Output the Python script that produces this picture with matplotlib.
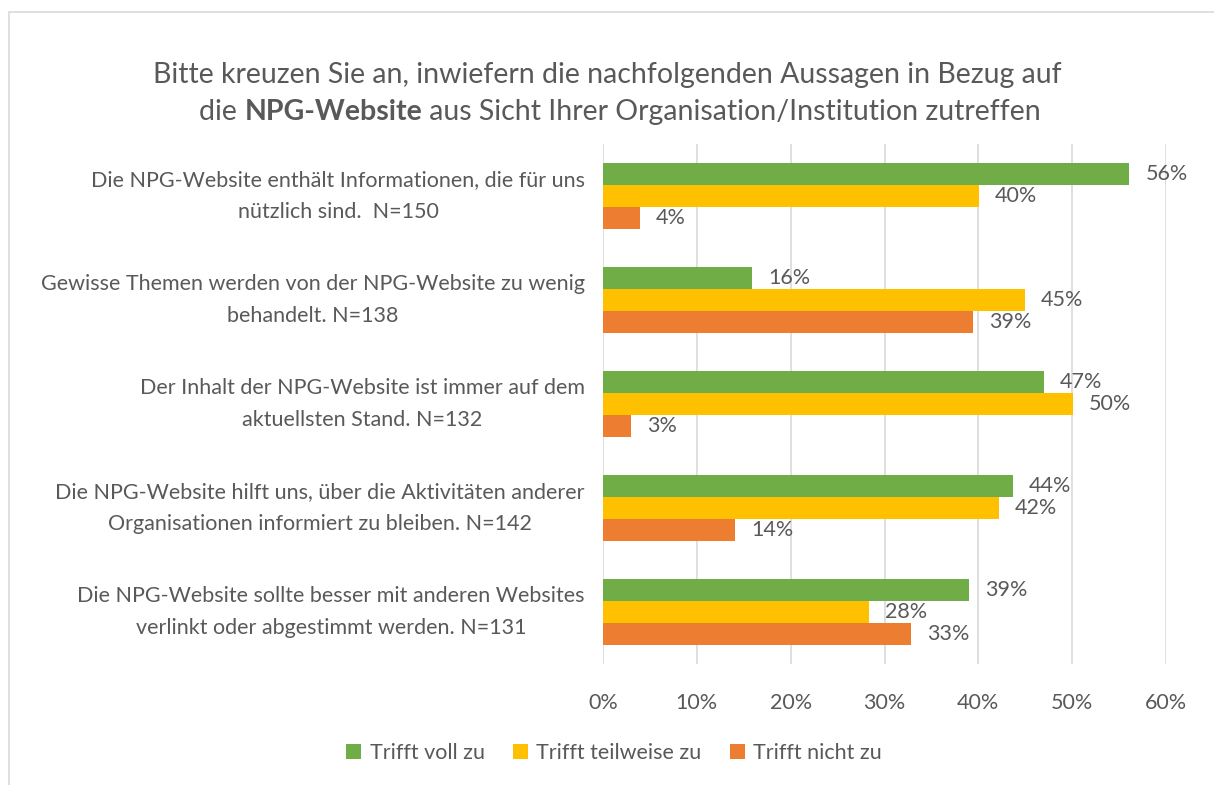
import matplotlib
matplotlib.use("Agg")
import matplotlib.pyplot as plt
import numpy as np
from matplotlib.patches import Rectangle, Patch

plt.rcParams["font.family"] = ["Lato", "DejaVu Sans"]

TEXT = "#595959"
GRID = "#D9D9D9"

categories = [
    "Die NPG-Website enthält Informationen, die für uns\nnützlich sind.  N=150",
    "Gewisse Themen werden von der NPG-Website zu wenig\nbehandelt. N=138",
    "Der Inhalt der NPG-Website ist immer auf dem\naktuellsten Stand. N=132",
    "Die NPG-Website hilft uns, über die Aktivitäten anderer\nOrganisationen informiert zu bleiben. N=142",
    "Die NPG-Website sollte besser mit anderen Websites\nverlinkt oder abgestimmt werden. N=131",
]
series_names = ["Trifft voll zu", "Trifft teilweise zu", "Trifft nicht zu"]
series_colors = ["#70AD47", "#FFC000", "#ED7D31"]
voll = [56.1, 15.9, 47.0, 43.7, 39.0]
teilweise = [40.1, 45.0, 50.1, 42.2, 28.3]
nicht = [3.9, 39.4, 3.0, 14.1, 32.8]
x_ticks = [0, 10, 20, 30, 40, 50, 60]

FS = 15.5

fig = plt.figure(figsize=(12.14, 7.85), dpi=100)
fig.patch.set_facecolor("white")

# outer chart border
fig.patches.append(Rectangle((9 / 1214, -0.05), 1.2, 0.05 + 1 - 12 / 785,
                             transform=fig.transFigure, fill=False,
                             edgecolor=GRID, linewidth=1.2, zorder=0))

ax = fig.add_axes([603 / 1214, 1 - 664 / 785, 563 / 1214, 520 / 785])

y = np.arange(len(categories))
h = 0.21
for k, (vals, col) in enumerate(zip([voll, teilweise, nicht], series_colors)):
    pos = y + (k - 1) * h
    ax.barh(pos, vals, height=h, color=col, zorder=3)
    for p, v in zip(pos, vals):
        ax.text(v + 1.7, p, f"{v:.0f}%", va="center", ha="left",
                fontsize=FS, color=TEXT, zorder=4)

ax.set_xlim(0, 60)
ax.set_ylim(len(categories) - 0.5, -0.5)
ax.set_xticks(x_ticks)
ax.set_xticklabels([f"{t}%" for t in x_ticks], fontsize=FS, color=TEXT)
ax.tick_params(axis="x", length=0, pad=21)
ax.set_yticks([])
ax.grid(axis="x", color=GRID, linewidth=1.2, zorder=0)
for s in ax.spines.values():
    s.set_visible(False)

for i, lab in enumerate(categories):
    ax.text(-0.032, i, lab, transform=ax.get_yaxis_transform(), ha="right",
            va="center", fontsize=FS, color=TEXT, linespacing=1.7,
            multialignment="center")

# title: line 1 plain, line 2 with bold part
TFS = 20.5
fig.text(607 / 1214, 1 - 75 / 785,
         "Bitte kreuzen Sie an, inwiefern die nachfolgenden Aussagen in Bezug auf",
         ha="center", va="center", fontsize=TFS, color=TEXT)
parts = [("die ", "normal"), ("NPG-Website", "bold"),
         (" aus Sicht Ihrer Organisation/Institution zutreffen", "normal")]
renderer = fig.canvas.get_renderer()
objs = []
for txt, w in parts:
    t = fig.text(0, 1 - 112 / 785, txt, ha="left", va="center", fontsize=TFS,
                 color=TEXT, fontweight=w)
    objs.append(t)
widths = [t.get_window_extent(renderer).width for t in objs]
x0 = 620 - sum(widths) / 2
for t, wd in zip(objs, widths):
    t.set_x(x0 / 1214)
    x0 += wd

handles = [Patch(facecolor=c, edgecolor="none") for c in series_colors]
leg = fig.legend(handles, series_names, loc="center", ncol=3,
                 bbox_to_anchor=(614 / 1214, 1 - 753 / 785), frameon=False,
                 fontsize=FS, handlelength=0.7, handleheight=0.7,
                 handletextpad=0.4, columnspacing=1.3)
for t in leg.get_texts():
    t.set_color(TEXT)

fig.savefig("out.png", dpi=100)
